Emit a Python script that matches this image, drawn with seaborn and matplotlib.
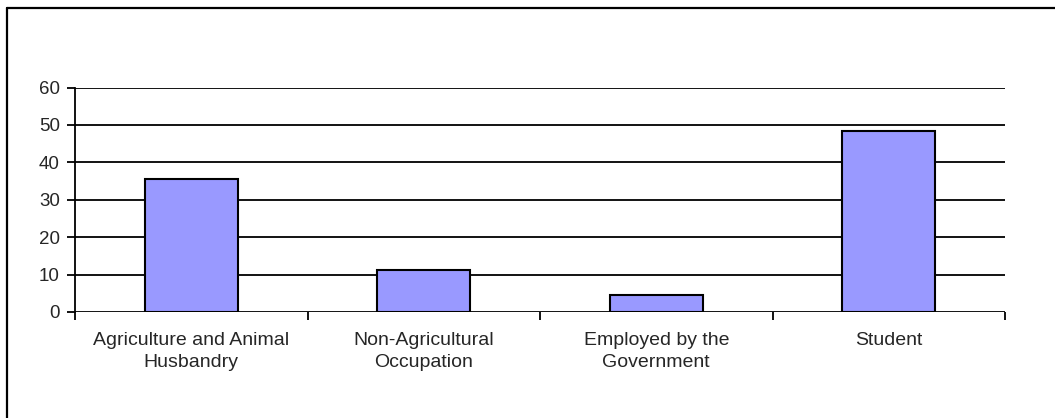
import matplotlib
matplotlib.use("Agg")
import matplotlib.pyplot as plt
from matplotlib.lines import Line2D
import seaborn as sns
import pandas as pd

categories = ["Agriculture and Animal\nHusbandry", "Non-Agricultural\nOccupation",
              "Employed by the\nGovernment", "Student"]
values = [35.5, 11.1, 4.5, 48.5]
yticks = [0, 10, 20, 30, 40, 50, 60]

sns.set_theme(style="white")
plt.rcParams['font.family'] = ['Liberation Sans', 'DejaVu Sans']

fig = plt.figure(figsize=(10.55, 4.18), dpi=100)
ax = fig.add_axes([75/1055, 1-312/418, 930/1055, (312-87.5)/418])

df = pd.DataFrame({"cat": categories, "val": values})
sns.barplot(data=df, x="cat", y="val", ax=ax, color="#9999FF", width=0.4,
            edgecolor="black", linewidth=1.5, saturation=1, zorder=3)

ax.set_xlim(-0.5, 3.5)
ax.set_ylim(0, 60)
ax.set_yticks(yticks)
for y in yticks:
    ax.axhline(y, color="black", linewidth=1.3, zorder=1)
ax.set_xlabel("")
ax.set_ylabel("")

ax.set_xticks([-0.5, 0.5, 1.5, 2.5, 3.5])
ax.set_xticklabels([])
ax.set_xticks(range(len(categories)), minor=True)
ax.set_xticklabels(categories, minor=True, fontsize=14, linespacing=1.35)
ax.tick_params(axis="x", which="major", direction="out", length=6, width=1.3,
               color="black", bottom=True)
ax.tick_params(axis="x", which="minor", length=0, pad=14.5)
ax.tick_params(axis="y", direction="out", length=6, width=1.3, color="black",
               left=True, labelsize=13.5, pad=5)

for s in ["top", "right", "bottom"]:
    ax.spines[s].set_visible(False)
ax.spines["left"].set_color("black")
ax.spines["left"].set_linewidth(1.3)
ax.spines["left"].set_zorder(4)

# figure border (left and top)
fig.add_artist(Line2D([7/1055, 7/1055], [0, 1-7.5/418], color="black", linewidth=1.6,
                      transform=fig.transFigure))
fig.add_artist(Line2D([7/1055, 1], [1-7.5/418, 1-7.5/418], color="black", linewidth=1.6,
                      transform=fig.transFigure))

fig.savefig("out.png", dpi=100)
